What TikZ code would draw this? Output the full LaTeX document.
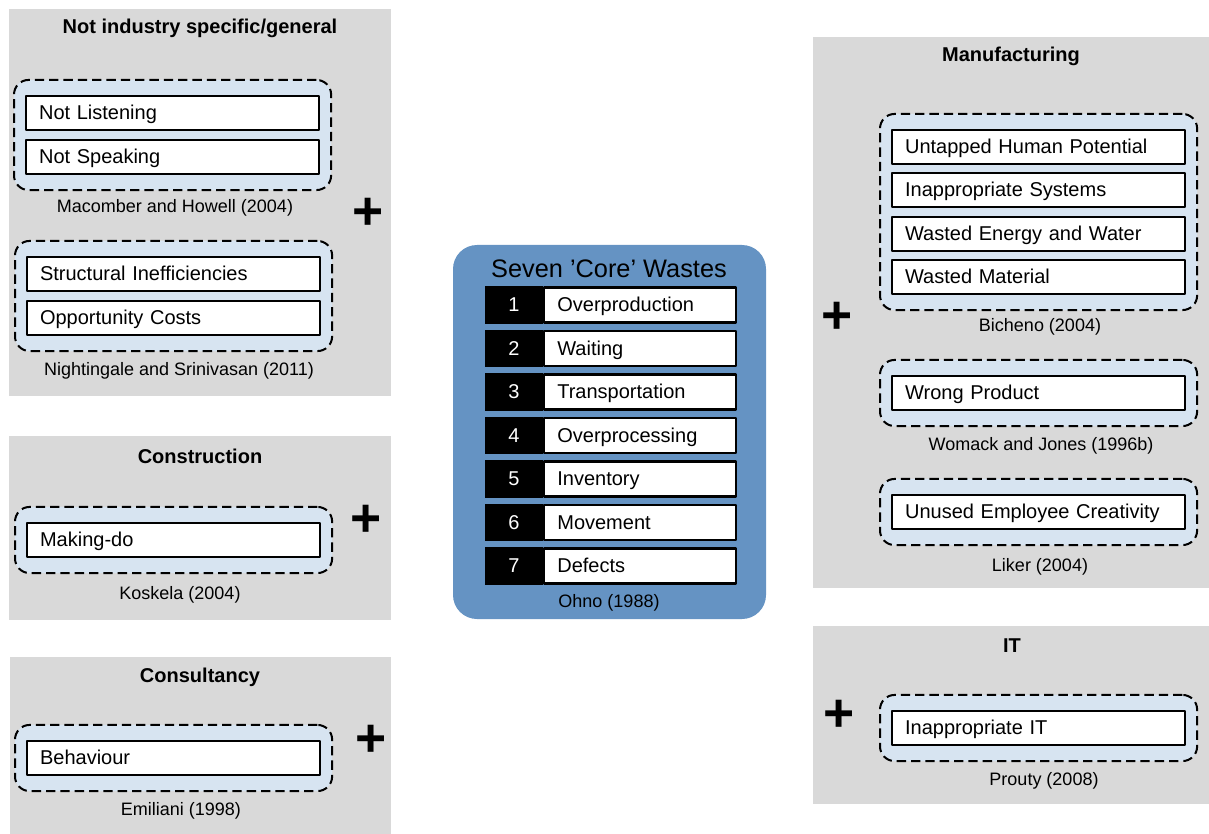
\documentclass[tikz,border=0pt]{standalone}
\usepackage{fontspec}
\setmainfont{Liberation Sans}
\usetikzlibrary{positioning,fit,backgrounds}
\definecolor{panelgray}{RGB}{217,217,217}
\definecolor{groupblue}{RGB}{215,228,241}
\definecolor{coreblue}{RGB}{101,147,195}
\newlength{\pxu}\setlength{\pxu}{0.75pt}

\begin{document}
\begin{tikzpicture}[x=0.75pt,y=-0.75pt,line join=round,
  paneltitle/.style={font=\bfseries\fontsize{15}{18}\selectfont},
  wastebox/.style={draw,fill=white,line width=1.6pt,anchor=west,text width=267\pxu,inner xsep=13\pxu,inner ysep=0pt,minimum height=34\pxu,text height=11pt,text depth=1pt,font=\fontsize{15}{18}\selectfont},
  wastegroup/.style={draw,fill=groupblue,line width=1.5pt,dash pattern=on 7pt off 3.75pt,rounded corners=11pt,inner xsep=11\pxu,inner ysep=15\pxu},
  source/.style={font=\fontsize{13.5}{16}\selectfont},
  plusmark/.style={font=\bfseries\fontsize{40}{40}\selectfont,inner sep=0pt},
  numcell/.style={fill=black,text=white,minimum width=58\pxu,minimum height=35\pxu+1.6pt,inner sep=0pt,text height=11pt,text depth=1pt,font=\fontsize{15}{18}\selectfont},
  corecell/.style={draw,fill=white,line width=1.6pt,text width=166\pxu,inner xsep=13\pxu,inner ysep=0pt,minimum height=35\pxu,text height=11pt,text depth=1pt,font=\fontsize{15}{18}\selectfont}]
\useasboundingbox (0,0) rectangle (1209,834);

% seven core wastes
\fill[coreblue,rounded corners=18pt] (453,245) rectangle (766,619);
\node[font=\fontsize{19}{22}\selectfont] (coretitle) at (609,269) {Seven 'Core' Wastes};
\foreach \w [count=\i] in {Overproduction,Waiting,Transportation,Overprocessing,Inventory,Movement,Defects}{
  \pgfmathsetmacro{\y}{305+43.5*(\i-1)}
  \node[numcell] (num\i) at (514,\y) {\i};
  \node[corecell,right=0pt of num\i] (core\i) {\w};
}
\node[source] (ohno) at (609,603) {Ohno (1988)};

% not industry specific/general
\node[paneltitle] (gentitle) at (200,28) {Not industry specific/general};
\node[wastebox] (listen) at (25,113) {Not Listening};
\node[wastebox] (speak) at (25,157) {Not Speaking};
\node[source] (macomber) at (175,208) {Macomber and Howell (2004)};
\node[wastebox] (struct) at (26,274) {Structural Inefficiencies};
\node[wastebox] (opport) at (26,318) {Opportunity Costs};
\node[source] (nightingale) at (179,371) {Nightingale and Srinivasan (2011)};
\node[plusmark] (plusgen) at (368,214) {+};

% construction
\node[paneltitle] (contitle) at (200,456) {Construction};
\node[wastebox] (making) at (26,540) {Making-do};
\node[source] (koskela) at (180,595) {Koskela (2004)};
\node[plusmark] (pluscon) at (366,521) {+};

% consultancy
\node[paneltitle] (cslttitle) at (200,677) {Consultancy};
\node[wastebox] (behav) at (26,758) {Behaviour};
\node[source] (emiliani) at (181,811) {Emiliani (1998)};
\node[plusmark] (pluscslt) at (371,741) {+};

% manufacturing
\node[paneltitle] (mfgtitle) at (1011,56) {Manufacturing};
\node[wastebox] (human) at (891,147) {Untapped Human Potential};
\node[wastebox] (systems) at (891,190) {Inappropriate Systems};
\node[wastebox] (energy) at (891,234) {Wasted Energy and Water};
\node[wastebox] (material) at (891,277) {Wasted Material};
\node[source] (bicheno) at (1040,327) {Bicheno (2004)};
\node[wastebox] (product) at (891,393) {Wrong Product};
\node[source] (womack) at (1041,446) {Womack and Jones (1996b)};
\node[wastebox] (creativ) at (891,512) {Unused Employee Creativity};
\node[source] (liker) at (1040,567) {Liker (2004)};
\node[plusmark] (plusmfg) at (837,318) {+};

% IT
\node[paneltitle] (ittitle) at (1012,646) {IT};
\node[wastebox] (inappit) at (891,728) {Inappropriate IT};
\node[source] (prouty) at (1044,781) {Prouty (2008)};
\node[plusmark] (plusit) at (839,716) {+};

\begin{scope}[on background layer]
\fill[panelgray] (9,9) rectangle (391,396);
\fill[panelgray] (9,436) rectangle (391,620);
\fill[panelgray] (10,657) rectangle (391,834);
\fill[panelgray] (813,37) rectangle (1209,588);
\fill[panelgray] (813,626) rectangle (1209,804);
\node[wastegroup,fit=(listen)(speak)] (macombergrp) {};
\node[wastegroup,fit=(struct)(opport)] (nightingalegrp) {};
\node[wastegroup,fit=(making)] (koskelagrp) {};
\node[wastegroup,fit=(behav)] (emilianigrp) {};
\node[wastegroup,fit=(human)(material)] (bichenogrp) {};
\node[wastegroup,fit=(product)] (womackgrp) {};
\node[wastegroup,fit=(creativ)] (likergrp) {};
\node[wastegroup,fit=(inappit)] (proutygrp) {};
\end{scope}
\end{tikzpicture}
\end{document}
